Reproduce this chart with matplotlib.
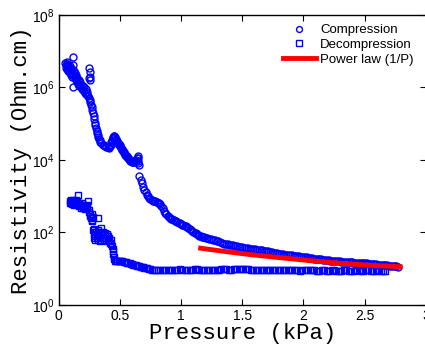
import matplotlib
matplotlib.use("Agg")
import matplotlib.pyplot as plt
from matplotlib.ticker import NullLocator, FixedLocator

# ---- data (pressure in kPa, log10 of resistivity) ----
# Compression, first part (scattered cluster, steep drop, trough, bump)
comp_p1 = [0.055, 0.06, 0.06, 0.065, 0.065, 0.07, 0.07, 0.075, 0.075, 0.08, 0.08, 0.085, 0.09, 0.09,
           0.095, 0.10, 0.10, 0.105, 0.11, 0.11, 0.115, 0.12, 0.12, 0.12, 0.125, 0.13, 0.13, 0.135,
           0.14, 0.14, 0.145, 0.15, 0.15, 0.155, 0.16, 0.165, 0.17, 0.175, 0.18, 0.185, 0.19, 0.195,
           0.20, 0.205, 0.21, 0.215, 0.22, 0.225, 0.23, 0.235, 0.24, 0.245, 0.25, 0.255, 0.255, 0.26,
           0.25, 0.255, 0.26, 0.265, 0.27, 0.275, 0.28, 0.285, 0.29, 0.295, 0.30, 0.305, 0.31, 0.315,
           0.32, 0.325, 0.33, 0.335, 0.34, 0.35, 0.36, 0.37, 0.38, 0.39, 0.40, 0.41, 0.415, 0.42,
           0.425, 0.43, 0.435, 0.44, 0.445, 0.45, 0.455, 0.46, 0.465, 0.47, 0.475, 0.48, 0.485, 0.49,
           0.495, 0.50, 0.505, 0.51, 0.515, 0.52, 0.525, 0.53, 0.535, 0.54, 0.545, 0.55, 0.555, 0.56,
           0.565, 0.57, 0.575, 0.58, 0.585, 0.59, 0.595, 0.60, 0.605, 0.61, 0.615, 0.62, 0.625, 0.63,
           0.635, 0.64, 0.645, 0.648, 0.65, 0.652, 0.655]
comp_lr1 = [6.68, 6.62, 6.55, 6.70, 6.60, 6.52, 6.65, 6.58, 6.48, 6.62, 6.45, 6.55, 6.50, 6.40,
            6.58, 6.45, 6.35, 6.50, 6.40, 6.30, 6.62, 6.85, 6.00, 6.35, 6.45, 6.30, 6.40, 6.25,
            6.35, 6.20, 6.30, 6.15, 6.25, 6.20, 6.10, 6.20, 6.05, 6.15, 6.00, 6.08, 5.95, 6.05,
            5.92, 6.00, 5.90, 5.85, 5.95, 5.82, 5.78, 5.88, 5.75, 6.25, 6.55, 6.42, 6.30, 6.20,
            5.72, 5.65, 5.60, 5.52, 5.45, 5.38, 5.30, 5.22, 5.12, 5.02, 4.95, 4.88, 4.80, 4.74,
            4.68, 4.62, 4.58, 4.54, 4.50, 4.46, 4.42, 4.40, 4.38, 4.36, 4.35, 4.34, 4.35, 4.38,
            4.42, 4.48, 4.55, 4.60, 4.64, 4.66, 4.65, 4.62, 4.58, 4.55, 4.52, 4.49, 4.46, 4.44,
            4.42, 4.40, 4.37, 4.34, 4.31, 4.28, 4.25, 4.22, 4.19, 4.16, 4.14, 4.12, 4.10, 4.08,
            4.06, 4.04, 4.02, 4.00, 3.98, 3.97, 3.96, 3.95, 3.95, 3.94, 3.95, 3.96, 3.97, 3.98,
            4.00, 4.05, 4.12, 4.06, 3.98, 3.90, 3.85]

# Compression, second part (after the jump)
comp_p2 = [0.66, 0.67, 0.68, 0.69, 0.70, 0.71, 0.72, 0.73, 0.74, 0.75, 0.76, 0.77, 0.78, 0.79,
           0.80, 0.81, 0.82, 0.83, 0.84, 0.85, 0.86, 0.87, 0.88, 0.89, 0.90, 0.91, 0.92, 0.93,
           0.94, 0.95, 0.96, 0.97, 0.98, 0.99, 1.00, 1.01, 1.02, 1.03, 1.04, 1.05, 1.06, 1.07,
           1.08, 1.09, 1.10, 1.11, 1.12, 1.13, 1.14, 1.15, 1.16, 1.17, 1.18, 1.19, 1.20]
comp_lr2 = [3.56, 3.45, 3.35, 3.25, 3.17, 3.10, 3.04, 2.99, 2.95, 2.91, 2.89, 2.87, 2.86, 2.85,
            2.84, 2.82, 2.80, 2.77, 2.72, 2.66, 2.60, 2.54, 2.50, 2.46, 2.43, 2.40, 2.38, 2.36,
            2.34, 2.32, 2.30, 2.28, 2.26, 2.25, 2.23, 2.21, 2.20, 2.18, 2.17, 2.15, 2.13, 2.10,
            2.07, 2.04, 2.01, 1.99, 1.97, 1.95, 1.93, 1.91, 1.90, 1.88, 1.87, 1.86, 1.85]

# Compression, tail
comp_p3 = [1.215, 1.23, 1.245, 1.26, 1.275, 1.29, 1.305, 1.32, 1.335, 1.35, 1.365, 1.38, 1.395, 1.41,
           1.425, 1.44, 1.455, 1.47, 1.485, 1.50, 1.515, 1.53, 1.545, 1.56, 1.575, 1.59, 1.605, 1.62,
           1.635, 1.65, 1.665, 1.68, 1.695, 1.71, 1.725, 1.74, 1.755, 1.77, 1.785, 1.80, 1.815, 1.83,
           1.845, 1.86, 1.875, 1.89, 1.905, 1.92, 1.935, 1.95, 1.965, 1.98, 1.995, 2.01, 2.025, 2.04,
           2.055, 2.07, 2.085, 2.10, 2.115, 2.13, 2.145, 2.16, 2.175, 2.19, 2.205, 2.22, 2.235, 2.25,
           2.265, 2.28, 2.295, 2.31, 2.325, 2.34, 2.355, 2.37, 2.385, 2.40, 2.415, 2.43, 2.445, 2.46,
           2.475, 2.49, 2.505, 2.52, 2.535, 2.55, 2.565, 2.58, 2.595, 2.61, 2.625, 2.64, 2.655, 2.67,
           2.685, 2.70, 2.715, 2.73, 2.745, 2.76, 2.775]
comp_lr3 = [1.83, 1.82, 1.81, 1.80, 1.79, 1.77, 1.75, 1.73, 1.71, 1.69, 1.68, 1.67, 1.66, 1.65,
            1.64, 1.62, 1.61, 1.60, 1.59, 1.58, 1.575, 1.57, 1.56, 1.55, 1.54, 1.53, 1.525, 1.52,
            1.515, 1.51, 1.50, 1.49, 1.48, 1.47, 1.46, 1.45, 1.44, 1.43, 1.42, 1.41, 1.40, 1.39,
            1.385, 1.38, 1.37, 1.365, 1.36, 1.35, 1.345, 1.34, 1.335, 1.33, 1.32, 1.31, 1.305, 1.30,
            1.29, 1.28, 1.275, 1.27, 1.26, 1.255, 1.25, 1.24, 1.235, 1.23, 1.225, 1.22, 1.215, 1.21,
            1.205, 1.20, 1.195, 1.19, 1.19, 1.185, 1.18, 1.18, 1.175, 1.17, 1.165, 1.16, 1.16, 1.155,
            1.15, 1.15, 1.145, 1.14, 1.135, 1.13, 1.125, 1.12, 1.115, 1.11, 1.105, 1.10, 1.095, 1.09,
            1.085, 1.08, 1.075, 1.07, 1.065, 1.06, 1.055]

# Decompression, first part (scattered, steps)
dec_p1 = [0.09, 0.095, 0.10, 0.10, 0.105, 0.11, 0.11, 0.115, 0.12, 0.125, 0.13, 0.135, 0.14, 0.145,
          0.15, 0.155, 0.16, 0.165, 0.17, 0.175, 0.18, 0.185, 0.19, 0.195, 0.20, 0.205, 0.21, 0.215,
          0.22, 0.225, 0.23, 0.235, 0.24, 0.245, 0.25, 0.255, 0.26, 0.265, 0.27, 0.275, 0.27, 0.28,
          0.32, 0.28, 0.285, 0.29, 0.29, 0.295, 0.30, 0.30, 0.305, 0.31, 0.315, 0.32, 0.32, 0.325,
          0.33, 0.335, 0.34, 0.345, 0.35, 0.355, 0.36, 0.365, 0.37, 0.375, 0.38, 0.385, 0.39, 0.395,
          0.40, 0.405, 0.41, 0.415, 0.42, 0.425, 0.43, 0.435, 0.44, 0.44, 0.445, 0.45, 0.455, 0.46]
dec_lr1 = [2.85, 2.82, 2.88, 2.80, 2.84, 2.78, 2.86, 2.83, 2.88, 2.76, 2.84, 2.80, 2.90, 2.78,
           2.85, 3.02, 2.82, 2.72, 2.80, 2.75, 2.68, 2.76, 2.80, 2.70, 2.66, 2.74, 2.70, 2.64,
           2.72, 2.66, 2.68, 2.75, 2.86, 2.62, 2.55, 2.50, 2.45, 2.40, 2.35, 2.30, 2.50, 2.42,
           2.40, 2.05, 1.95, 2.08, 1.85, 2.00, 1.90, 1.78, 2.02, 1.92, 1.85, 2.06, 1.80, 1.95,
           2.00, 1.88, 1.75, 1.98, 2.12, 1.85, 1.95, 2.02, 1.80, 1.92, 1.98, 1.75, 1.85, 1.95,
           1.80, 1.90, 1.75, 1.85, 1.70, 1.80, 1.68, 1.62, 1.55, 1.48, 1.40, 1.32, 1.26, 1.22]

# Decompression, smooth part
dec_p2 = [0.47, 0.48, 0.49, 0.50, 0.51, 0.52, 0.53, 0.54, 0.55, 0.56, 0.57, 0.58, 0.59, 0.60,
          0.61, 0.62, 0.63, 0.64, 0.65, 0.66, 0.67, 0.68, 0.69, 0.70, 0.71, 0.72, 0.735, 0.75,
          0.765, 0.78, 0.795, 0.81]
dec_lr2 = [1.22, 1.22, 1.22, 1.21, 1.21, 1.20, 1.19, 1.18, 1.17, 1.16, 1.15, 1.14, 1.13, 1.12,
           1.11, 1.10, 1.09, 1.08, 1.07, 1.06, 1.05, 1.04, 1.03, 1.02, 1.01, 1.00, 0.99, 0.98,
           0.97, 0.97, 0.96, 0.96]

# Decompression, flat tail
dec_p3 = [0.83, 0.85, 0.87, 0.89, 0.91, 0.93, 0.95, 0.97, 0.99,
          1.01, 1.03, 1.05, 1.07, 1.09, 1.11, 1.13, 1.15, 1.17, 1.19,
          1.21, 1.23, 1.25, 1.27, 1.29, 1.31, 1.33, 1.35, 1.37, 1.39,
          1.41, 1.43, 1.45, 1.47, 1.49, 1.51, 1.53, 1.55, 1.57, 1.59,
          1.61, 1.63, 1.65, 1.67, 1.69, 1.71, 1.73, 1.75, 1.77, 1.79,
          1.81, 1.83, 1.85, 1.87, 1.89, 1.91, 1.93, 1.95, 1.97, 1.99,
          2.01, 2.03, 2.05, 2.07, 2.09, 2.11, 2.13, 2.15, 2.17, 2.19,
          2.21, 2.23, 2.25, 2.27, 2.29, 2.31, 2.33, 2.35, 2.37, 2.39,
          2.41, 2.43, 2.45, 2.47, 2.49, 2.51, 2.53, 2.55, 2.57, 2.59,
          2.61, 2.63, 2.65, 2.67]
dec_lr3 = [0.96, 0.96, 0.97, 0.97, 0.96, 0.96, 0.97, 0.97, 0.98,
           0.97, 0.96, 0.96, 0.97, 0.97, 0.98, 0.98, 0.97, 0.96, 0.96,
           0.95, 0.95, 0.96, 0.96, 0.97, 0.97, 0.98, 0.98, 0.98, 0.97,
           0.97, 0.98, 0.98, 0.99, 0.99, 0.99, 0.98, 0.98, 0.97, 0.97,
           0.97, 0.96, 0.96, 0.97, 0.97, 0.96, 0.96, 0.95, 0.95, 0.96,
           0.96, 0.95, 0.95, 0.95, 0.96, 0.96, 0.95, 0.95, 0.94, 0.95,
           0.95, 0.96, 0.96, 0.95, 0.95, 0.94, 0.94, 0.95, 0.95, 0.94,
           0.94, 0.95, 0.95, 0.94, 0.94, 0.94, 0.95, 0.95, 0.94, 0.94,
           0.94, 0.95, 0.95, 0.94, 0.94, 0.95, 0.95, 0.94, 0.94, 0.94,
           0.95, 0.94, 0.94, 0.94]

# Power-law fit line (read points along the red line), resistivity in Ohm.cm
fit_p = [1.16, 1.35, 1.55, 1.80, 2.05, 2.30, 2.55, 2.79]
fit_r = [36.3, 29.8, 24.5, 20.0, 16.5, 14.0, 12.2, 11.2]

x_ticks = [0, 0.5, 1, 1.5, 2, 2.5, 3]
x_ticklabels = ["0", "0.5", "1", "1.5", "2", "2.5", "3"]
y_ticks = [1, 1e2, 1e4, 1e6, 1e8]

comp_p = comp_p1 + comp_p2 + comp_p3
comp_r = [10 ** v for v in comp_lr1 + comp_lr2 + comp_lr3]
dec_p = dec_p1 + dec_p2 + dec_p3
dec_r = [10 ** v for v in dec_lr1 + dec_lr2 + dec_lr3]
assert len(comp_p) == len(comp_r) and len(dec_p) == len(dec_r)

# ---- style ----
plt.rcParams['font.family'] = ['Liberation Sans', 'DejaVu Sans']
plt.rcParams['mathtext.fontset'] = 'custom'
plt.rcParams['mathtext.rm'] = 'Liberation Sans'
plt.rcParams['mathtext.it'] = 'Liberation Sans:italic'
plt.rcParams['mathtext.bf'] = 'Liberation Sans:bold'

fig = plt.figure(figsize=(4.25, 3.45), dpi=100)
fig.patch.set_facecolor('white')
ax = fig.add_axes([0.138, 0.1168, 0.864, 0.8397])

blue = (0, 0, 1)
ax.plot(comp_p, comp_r, linestyle='none', marker='o', markersize=5.0,
        markerfacecolor='none', markeredgecolor=blue, markeredgewidth=1.0, label='Compression')
ax.plot(dec_p, dec_r, linestyle='none', marker='s', markersize=4.5,
        markerfacecolor='none', markeredgecolor=blue, markeredgewidth=1.0, label='Decompression')
ax.plot(fit_p, fit_r, color=(1, 0, 0), linewidth=3.5, label='Power law (1/P)')

ax.set_yscale('log')
ax.set_xlim(0, 3)
ax.set_ylim(1, 1e8)
ax.set_xticks(x_ticks)
ax.set_xticklabels(x_ticklabels)
ax.yaxis.set_major_locator(FixedLocator(y_ticks))
ax.yaxis.set_minor_locator(NullLocator())
ax.tick_params(which='both', direction='in', top=True, right=True, length=4,
               width=0.8, labelsize=10, colors='black', pad=3)
for s in ax.spines.values():
    s.set_linewidth(1.0)

ax.set_xlabel('Pressure (kPa)', family='Liberation Mono', fontsize=16, labelpad=0)
ax.set_ylabel('Resistivity (Ohm.cm)', family='Liberation Mono', fontsize=16, labelpad=0)

leg = ax.legend(loc='upper left', bbox_to_anchor=(283 / 425, (345 - 24) / 345),
                bbox_transform=fig.transFigure, frameon=False, fontsize=9.5,
                borderpad=0, borderaxespad=0, handlelength=2.5, handletextpad=0.3,
                labelspacing=0.2, numpoints=1, markerscale=0.85)

fig.savefig('out.png', dpi=100, facecolor='white')
